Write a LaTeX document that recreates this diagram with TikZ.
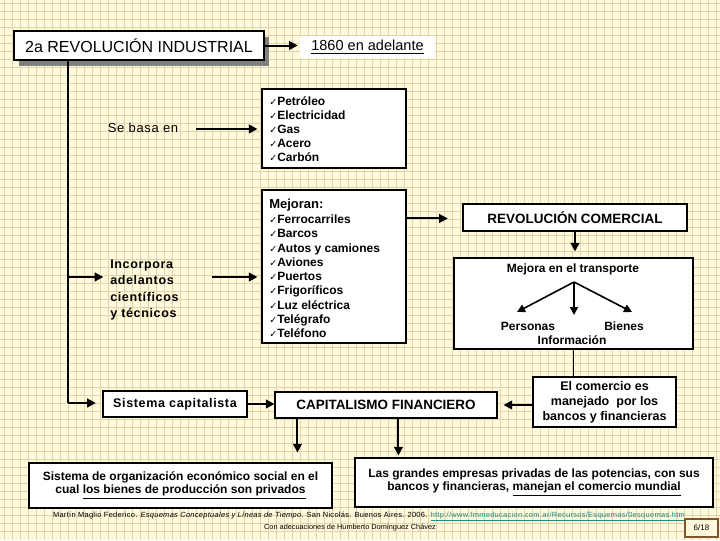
\documentclass[tikz,border=0pt]{standalone}
\usepackage{fontspec}
\setmainfont{Liberation Sans}
\newfontfamily\spc[LetterSpace=5]{Liberation Sans}
\newfontfamily\ftr[LetterSpace=4]{Liberation Sans}
\newfontfamily\djv{DejaVu Sans}
\usetikzlibrary{arrows.meta,shadows}
\definecolor{bgc}{RGB}{255,249,222}
\definecolor{gridc}{RGB}{226,211,168}
\definecolor{shd}{RGB}{128,128,128}
\definecolor{linkc}{RGB}{30,140,140}
\definecolor{pgc}{RGB}{130,85,45}
\newcommand\rbox[7]{\node[#6, minimum width={(#4-#2)*0.75pt}, minimum height={(#5-#3)*0.75pt}] (#1) at ({(#2+#4)/2},{(#3+#5)/2}) {#7};}
\newcommand\ck{{\djv\fontsize{7.2}{7.2}\selectfont ✓}}
\tikzset{
  conn/.style={line width=1.5pt, -{Triangle[length=6.5pt,width=6.5pt]}},
  sconn/.style={line width=1.2pt, -{Triangle[length=6pt,width=6pt]}},
  trunk/.style={line width=1.1pt},
  box/.style={draw=black, line width=0.8pt, fill=white, inner sep=0pt},
  item/.style={anchor=base west, inner sep=0pt, font=\bfseries\fontsize{9}{10}\selectfont},
  lbl/.style={inner sep=0pt, font=\bfseries\fontsize{9}{10}\selectfont},
}
\begin{document}
\begin{tikzpicture}[x=0.75pt, y=-0.75pt]
\useasboundingbox (0,0) rectangle (720,540);
% background grid
\fill[bgc] (0,0) rectangle (720,540);
\foreach \gx in {4,12,...,716} \draw[gridc, line width=0.75pt] (\gx,0) -- (\gx,540);
\foreach \gy in {3.5,11.5,...,539} \draw[gridc, line width=0.75pt] (0,\gy) -- (720,\gy);

% title
\rbox{title}{14}{31}{264}{60}{box, drop shadow={shadow xshift=3.75pt, shadow yshift=-4.5pt, fill=shd, opacity=1}, font=\fontsize{12}{14}\selectfont}{2a REVOLUCIÓN INDUSTRIAL}
\rbox{date}{300}{36}{435}{58}{fill=white, inner sep=0pt, font=\fontsize{10.9}{12}\selectfont}{\underline{1860 en adelante}}
\draw[conn, shorten >=1.5pt] (title.east) -- (title.east -| date.west);

% Se basa en
\node[inner sep=0pt, font=\spc\fontsize{9.75}{12}\selectfont] (sebasa) at (143,128) {Se basa en};
\rbox{list1}{262}{89}{406}{168}{box}{}
\foreach \t [count=\i from 0] in {Petróleo,Electricidad,Gas,Acero,Carbón}
  \node[item] (la\i) at (269,{105.5+14*\i}) {\ck\t};
\coordinate (sa) at (196,129);
\draw[conn, shorten >=3pt] (sa) -- (sa -| list1.west);

% Incorpora
\node[anchor=west, align=left, inner sep=0pt, font=\spc\bfseries\fontsize{9.4}{12.4}\selectfont] (inc) at (110,290) {Incorpora\\adelantos\\científicos\\y técnicos};
\rbox{list2}{262}{190}{406}{343}{box}{}
\node[item, font=\bfseries\fontsize{9.75}{11}\selectfont] (mej) at (269,208.5) {Mejoran:};
\foreach \t [count=\i from 0] in {Ferrocarriles,Barcos,Autos y camiones,Aviones,Puertos,Frigoríficos,Luz eléctrica,Telégrafo,Teléfono}
  \node[item] (lb\i) at (269,{223.5+14.25*\i}) {\ck\t};
\coordinate (ia) at (212,277);
\draw[conn, shorten >=3pt] (ia) -- (ia -| list2.west);

% trunk
\coordinate (tk) at (68,403);
\coordinate (tb) at (68,277);
\draw[trunk] (title.south -| tk) -- (tk);
\draw[conn, shorten >=5pt] (tb) -- (tb -| inc.west);

% Revolucion comercial
\rbox{revcom}{463}{204}{687}{231}{box, font=\bfseries\fontsize{10.1}{12}\selectfont}{REVOLUCIÓN COMERCIAL}
\path (list2.north east) ++(0,29) coordinate (m2);
\draw[conn, shorten >=11pt] (m2) -- (m2 -| revcom.west);
\rbox{transp}{454}{258}{693}{349}{box}{}
\draw[conn, shorten >=4.5pt] (revcom.south) -- (revcom.south |- transp.north);
\node[lbl] (mt) at (573,269) {Mejora en el transporte};
\coordinate (hub) at (574,282);
\coordinate (pa) at (517,312);
\coordinate (pb) at (574,315);
\coordinate (pc) at (632,312);
\draw[sconn] (hub) -- (pa);
\draw[sconn] (hub) -- (pb);
\draw[sconn] (hub) -- (pc);
\node[lbl] (per) at (528,326) {Personas};
\node[lbl] (bie) at (624,326) {Bienes};
\node[lbl] (inf) at (572,340) {Información};

% El comercio
\rbox{comer}{533}{377}{676}{427}{box, align=center, font=\bfseries\fontsize{9.4}{11.25}\selectfont}{El comercio es\\manejado\ \ por los\\bancos y financieras}
\draw[trunk] (transp.south) -- (transp.south |- comer.north);

% Sistema capitalista / capitalismo financiero
\rbox{sist}{103}{391}{247}{417}{box, font=\spc\bfseries\fontsize{9.4}{11}\selectfont}{Sistema capitalista}
\rbox{capfin}{275}{392}{497}{418}{box, font=\bfseries\fontsize{10.1}{12}\selectfont}{CAPITALISMO FINANCIERO}
\draw[conn, shorten >=5pt] (tk) -- (tk -| sist.west);
\draw[conn] (sist.east) -- (sist.east -| capfin.west);
\draw[conn, shorten >=4.5pt] (comer.west |- capfin.east) -- (capfin.east);

% bottom boxes
\rbox{bl}{29}{463}{332}{508}{box, align=center, font=\bfseries\fontsize{9}{9.75}\selectfont}{Sistema de organización económico social en el\\cual \underline{los bienes de producción son privados}}
\rbox{br}{355}{458}{713}{507}{box, align=center, font=\bfseries\fontsize{9}{9.75}\selectfont}{Las grandes empresas privadas de las potencias, con sus\\bancos y financieras, \underline{manejan el comercio mundial}}
\path (capfin.south west) ++(23,0) coordinate (d1);
\path (capfin.south west) ++(124,0) coordinate (d2);
\draw[conn, shorten >=7.5pt] (d1) -- (d1 |- bl.north);
\draw[conn, shorten >=1.5pt] (d2) -- (d2 |- br.north);

% footer
\node[inner sep=0pt, font=\ftr\fontsize{5.6}{6}\selectfont] (foot1) at (369,516.5) {Martín Maglio Federico. \textit{Esquemas Conceptuales y Líneas de Tiempo}. San Nicolás. Buenos Aires. 2006. {\color{linkc}\underline{http://www.fmmeducacion.com.ar/Recursos/Esquemas/0esquemas.htm}}};
\node[inner sep=0pt, font=\fontsize{5.5}{6}\selectfont] (foot2) at (350,528) {Con adecuaciones de Humberto Domínguez Chávez};
\rbox{pg}{685}{519}{718}{537}{draw=pgc, line width=0.9pt, fill=bgc, inner sep=0pt, font=\fontsize{6}{7}\selectfont}{6/18}
\end{tikzpicture}
\end{document}
